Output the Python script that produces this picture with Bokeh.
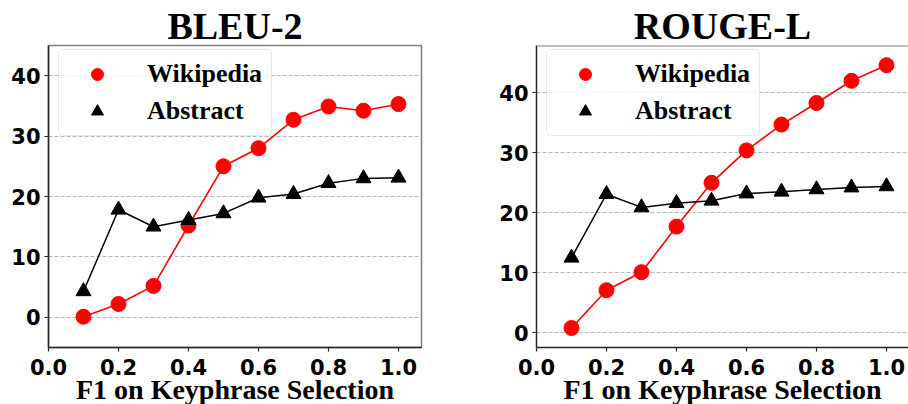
from bokeh.plotting import figure
from bokeh.layouts import row
from bokeh.models import Legend, LegendItem, Range1d, FixedTicker, PrintfTickFormatter, Span
from bokeh.embed import file_html
from bokeh.resources import INLINE

# ---- data ----
f1_values = [0.1, 0.2, 0.3, 0.4, 0.5, 0.6, 0.7, 0.8, 0.9, 1.0]
bleu_wikipedia = [0.1, 2.2, 5.2, 15.2, 25.0, 28.0, 32.7, 34.9, 34.2, 35.3]
bleu_abstract = [4.3, 17.8, 15.0, 16.1, 17.2, 19.8, 20.4, 22.2, 23.0, 23.1]
rouge_wikipedia = [0.8, 7.1, 10.1, 17.7, 25.0, 30.4, 34.7, 38.3, 42.0, 44.6]
rouge_abstract = [12.5, 23.1, 20.9, 21.6, 22.0, 23.2, 23.5, 23.9, 24.2, 24.4]
x_ticks = [0.0, 0.2, 0.4, 0.6, 0.8, 1.0]
y_ticks = [0, 10, 20, 30, 40]
series_labels = ["Wikipedia", "Abstract"]
titles = ["BLEU-2", "ROUGE-L"]
x_label = "F1 on Keyphrase Selection"

SERIF = "Liberation Serif"
SANS = "DejaVu Sans"
PX_PER_UNIT = 350.0


def make(title, wiki, abstract, y_lo, y_hi, frame_w, mb_left, mb_right, outline):
    p = figure(frame_width=frame_w, frame_height=302, output_backend="svg",
               toolbar_location=None,
               x_range=Range1d(0, frame_w / PX_PER_UNIT), y_range=Range1d(y_lo, y_hi),
               min_border_left=mb_left, min_border_right=mb_right,
               min_border_top=45, min_border_bottom=0,
               title=title)
    p.background_fill_color = "white"
    p.border_fill_color = "white"
    if outline:
        p.outline_line_color = "#808080"
        p.outline_line_width = 1.5
    else:
        p.outline_line_color = None
        p.add_layout(Span(location=y_hi, dimension="width",
                          line_color="#808080", line_width=2))

    p.title.text_font = SERIF
    p.title.text_font_style = "bold"
    p.title.text_font_size = "38px"
    p.title.align = "center"
    p.title.vertical_align = "top"
    p.title.standoff = -7
    p.title.text_color = "black"

    p.xgrid.visible = False
    p.ygrid.grid_line_color = "#b8b8b8"
    p.ygrid.grid_line_dash = "4 2"
    p.ygrid.grid_line_width = 1

    p.xaxis.ticker = FixedTicker(ticks=x_ticks)
    p.xaxis.formatter = PrintfTickFormatter(format="%.1f")
    p.yaxis.ticker = FixedTicker(ticks=y_ticks)
    for ax in (p.xaxis, p.yaxis):
        ax.axis_line_color = "#262626"
        ax.axis_line_width = 1.5
        ax.major_tick_in = 0
        ax.major_tick_out = 4
        ax.major_tick_line_color = "#262626"
        ax.major_tick_line_width = 1.2
        ax.minor_tick_line_color = None
        ax.major_label_text_font = SANS
        ax.major_label_text_font_style = "bold"
        ax.major_label_text_font_size = "21px"
        ax.major_label_text_color = "black"
    p.xaxis.major_label_standoff = 7
    p.yaxis.major_label_standoff = 4
    p.xaxis.axis_label = x_label
    p.xaxis.axis_label_text_font = SERIF
    p.xaxis.axis_label_text_font_style = "bold"
    p.xaxis.axis_label_text_font_size = "28px"
    p.xaxis.axis_label_text_color = "black"
    p.xaxis.axis_label_standoff = -4

    p.line(f1_values, wiki, line_color="red", line_width=1.6)
    r_w = p.scatter(f1_values, wiki, marker="circle", size=15,
                    fill_color="red", line_color="red")
    p.line(f1_values, abstract, line_color="black", line_width=1.5)
    r_a = p.scatter(f1_values, abstract, marker="triangle", size=15,
                    fill_color="black", line_color="black")

    legend = Legend(items=[LegendItem(label=series_labels[0], renderers=[r_w]),
                           LegendItem(label=series_labels[1], renderers=[r_a])],
                    location=(10, 211))
    legend.label_text_font = SERIF
    legend.label_text_font_style = "bold"
    legend.label_text_font_size = "26px"
    legend.label_text_color = "black"
    legend.glyph_width = 58
    legend.glyph_height = 30
    legend.label_height = 30
    legend.label_standoff = 21
    legend.spacing = 7
    legend.padding = 9
    legend.margin = 0
    legend.border_line_color = "#d0d0d0"
    legend.border_line_width = 1
    legend.background_fill_color = "white"
    legend.background_fill_alpha = 0.8
    if "border_radius" in Legend.properties():
        legend.border_radius = 5
    p.add_layout(legend)
    return p


p1 = make(titles[0], bleu_wikipedia, bleu_abstract, -5, 45, 373, 48, 57, True)
p2 = make(titles[1], rouge_wikipedia, rouge_abstract, -2.45, 47.88, 372, 58, 0, False)
layout = row(p1, p2)

open("out.html", "w").write(file_html(layout, INLINE))
